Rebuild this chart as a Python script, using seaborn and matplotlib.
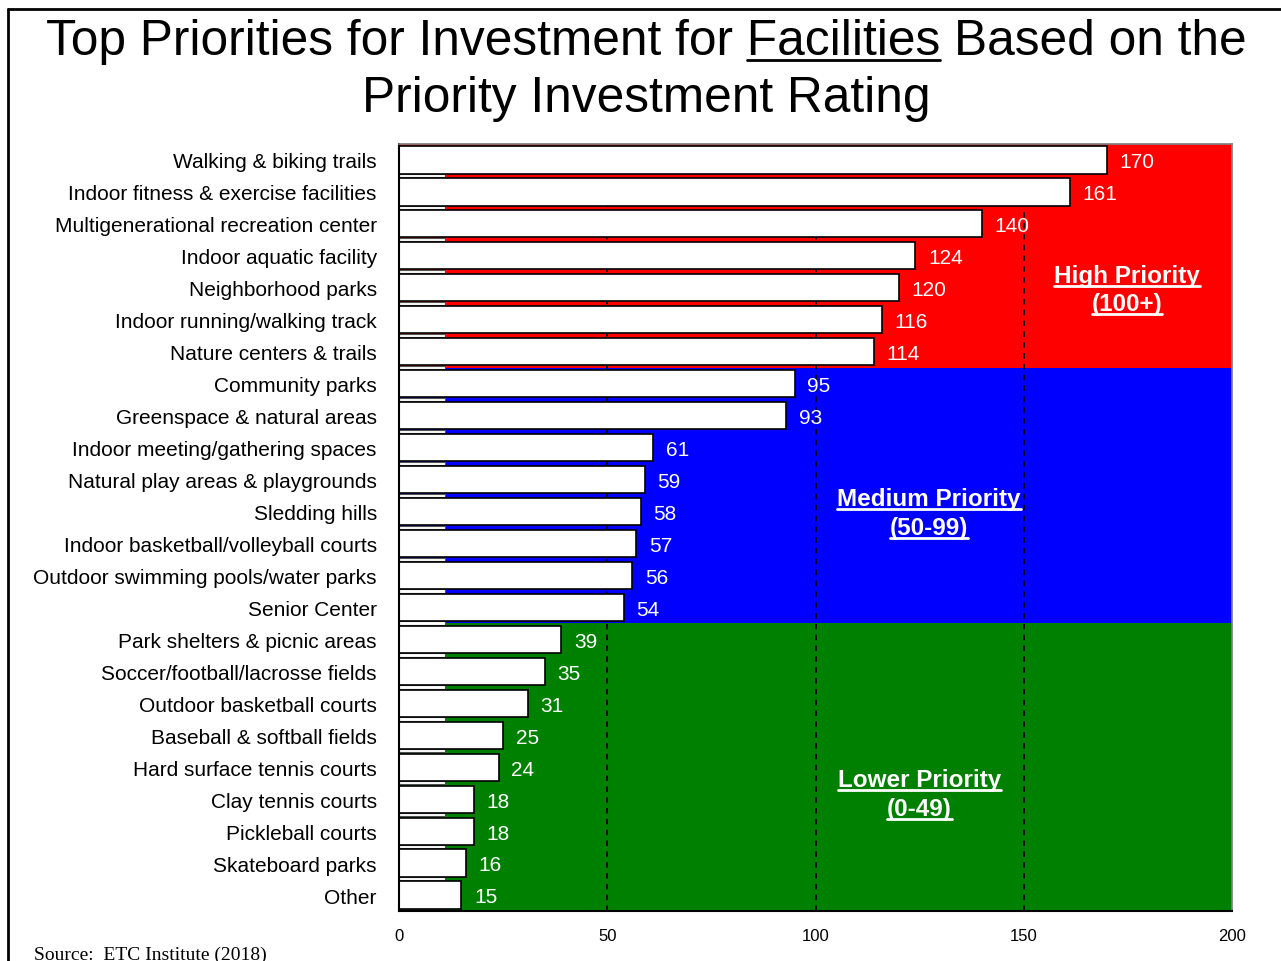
import numpy as np
import pandas as pd
import seaborn as sns
import matplotlib
matplotlib.use('Agg')
import matplotlib.pyplot as plt
from matplotlib.lines import Line2D

facilities = ['Walking & biking trails', 'Indoor fitness & exercise facilities',
              'Multigenerational recreation center', 'Indoor aquatic facility',
              'Neighborhood parks', 'Indoor running/walking track',
              'Nature centers & trails', 'Community parks',
              'Greenspace & natural areas', 'Indoor meeting/gathering spaces',
              'Natural play areas & playgrounds', 'Sledding hills',
              'Indoor basketball/volleyball courts', 'Outdoor swimming pools/water parks',
              'Senior Center', 'Park shelters & picnic areas',
              'Soccer/football/lacrosse fields', 'Outdoor basketball courts',
              'Baseball & softball fields', 'Hard surface tennis courts',
              'Clay tennis courts', 'Pickleball courts', 'Skateboard parks', 'Other']
ratings = [170, 161, 140, 124, 120, 116, 114, 95, 93, 61, 59, 58, 57, 56, 54,
           39, 35, 31, 25, 24, 18, 18, 16, 15]

# priority bands: (first row, last row, colour, label lines)
bands = [(0, 6, '#FF0000', ['High Priority', '(100+)']),
         (7, 14, '#0000FF', ['Medium Priority', '(50-99)']),
         (15, 23, '#008000', ['Lower Priority', '(0-49)'])]
band_label_pos = [(174.8, 3.6), (127.2, 10.6), (125.0, 19.4)]

xticks = [0, 50, 100, 150, 200]
ref_lines = [50, 100, 150]

sns.set_theme(style='white')
plt.rcParams['font.family'] = ['Liberation Sans', 'DejaVu Sans']
for k in ['text.color', 'axes.labelcolor', 'xtick.color', 'ytick.color']:
    plt.rcParams[k] = 'black'

W, H = 1281, 962
fig = plt.figure(figsize=(W / 100, H / 100), dpi=100)
ax = fig.add_axes([399 / W, 1 - 912 / H, (1232 - 399) / W, (912 - 145) / H])

df = pd.DataFrame({'facility': facilities, 'rating': ratings})

for lo, hi, col, _ in bands:
    ax.axhspan(lo - 0.5, hi + 0.5, color=col, zorder=0, lw=0)

for v in ref_lines:
    ax.axvline(v, color='black', lw=1.3, ls=(0, (3, 3)), zorder=0.5)

n_before = len(ax.patches)
sns.barplot(data=df, y='facility', x='rating', orient='h', color='white',
            saturation=1, edgecolor='black', linewidth=1.2, width=0.85, ax=ax)
for p in ax.patches[n_before:]:
    p.set_zorder(3)
    p.set_alpha(1)

# thin "floor" strip under each bar
for i in range(len(facilities)):
    ax.barh(i + 0.49, 11, height=0.1, left=0, color='white',
            edgecolor='#505050', linewidth=0.8, zorder=2)

for i, v in enumerate(ratings):
    ax.text(v + 3, i + 0.06, str(v), color='white', va='center', ha='left',
            fontsize=15, zorder=4)

ax.set_xlim(0, 200)
ax.set_ylim(len(facilities) - 0.5, -0.5)
ax.set_xticks(xticks)
ax.set_xticklabels([str(t) for t in xticks], fontsize=12)
ax.set_xlabel('')
ax.set_ylabel('')
ax.tick_params(axis='x', length=0, pad=12)
ax.tick_params(axis='y', length=0, pad=16, labelsize=15)
ax.spines['left'].set_color('black')
ax.spines['left'].set_linewidth(1.5)
ax.spines['bottom'].set_color('black')
ax.spines['bottom'].set_linewidth(1.5)
ax.spines['top'].set_color('#808080')
ax.spines['right'].set_color('#808080')
for s in ax.spines.values():
    s.set_zorder(6)

# titles
title1 = 'Top Priorities for Investment for Facilities Based on the'
t1 = fig.text(0.5 + 6 / W, 1 - 42 / H, title1, ha='center', va='center', fontsize=35.7)
fig.text(0.5 + 6 / W, 1 - 99 / H, 'Priority Investment Rating', ha='center',
         va='center', fontsize=35.7)

fig.text(34 / W, 1 - 955 / H, 'Source:  ETC Institute (2018)', fontsize=14,
         family='Liberation Serif', va='center')

band_texts = []
for (x, y), (_, _, _, lines) in zip(band_label_pos, bands):
    for k, line in enumerate(lines):
        t = ax.text(x, y + k * 0.9, line, color='white', fontweight='bold',
                    fontsize=17.5, ha='center', va='center', zorder=5)
        band_texts.append(t)

# frame lines on the figure
fig.add_artist(Line2D([8 / W, 8 / W], [0, 1 - 10 / H], transform=fig.transFigure,
                      color='black', lw=2))
fig.add_artist(Line2D([8 / W, 1], [1 - 10 / H, 1 - 10 / H], transform=fig.transFigure,
                      color='black', lw=2))

# underlines
fig.canvas.draw()
r = fig.canvas.get_renderer()
inv = fig.transFigure.inverted()


def underline(x0, x1, ydisp, color, lw):
    (fx0, fy), (fx1, _) = inv.transform([(x0, ydisp), (x1, ydisp)])
    fig.add_artist(Line2D([fx0, fx1], [fy, fy], transform=fig.transFigure,
                          color=color, lw=lw))


def width_of(s, **kw):
    tmp = fig.text(0, 0, s, **kw)
    w = tmp.get_window_extent(r).width
    tmp.remove()
    return w


bb = t1.get_window_extent(r)
w_word = width_of('Facilities', fontsize=35.7)
w_upto = width_of('Top Priorities for Investment for Facilities', fontsize=35.7)
end = bb.x0 + w_upto
underline(end - w_word, end, bb.y0 + 4, 'black', 2)

for t in band_texts:
    b = t.get_window_extent(r)
    underline(b.x0, b.x1, b.y0 + 1, 'white', 2)

fig.savefig('out.png', dpi=100)
